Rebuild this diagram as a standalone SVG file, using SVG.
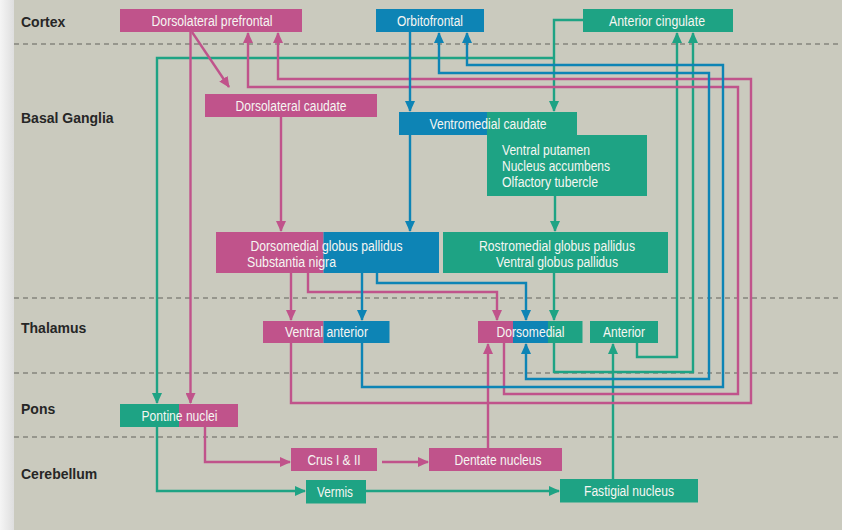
<svg xmlns="http://www.w3.org/2000/svg" width="842" height="530" viewBox="0 0 842 530">
<defs>
<linearGradient id="strip" x1="0" y1="0" x2="1" y2="0">
<stop offset="0" stop-color="#f5f5f5"/>
<stop offset="1" stop-color="#dedede"/>
</linearGradient>
<marker id="ap" markerUnits="userSpaceOnUse" markerWidth="11" markerHeight="10" refX="10" refY="5" orient="auto-start-reverse"><path d="M0,0 L11,5 L0,10 z" fill="#c0538b"/></marker>
<marker id="ab" markerUnits="userSpaceOnUse" markerWidth="11" markerHeight="10" refX="10" refY="5" orient="auto-start-reverse"><path d="M0,0 L11,5 L0,10 z" fill="#0d84b5"/></marker>
<marker id="at" markerUnits="userSpaceOnUse" markerWidth="11" markerHeight="10" refX="10" refY="5" orient="auto-start-reverse"><path d="M0,0 L11,5 L0,10 z" fill="#1ea384"/></marker>
</defs>
<style>
.sec{font-family:"Liberation Sans",Arial,sans-serif;font-weight:bold;font-size:14px;fill:#262626}
.lbl{font-family:"Liberation Sans",Arial,sans-serif;font-size:14px;fill:#f6f6f2}
.c{text-anchor:middle}
.pk{fill:#c0538b}
.bl{fill:#0d84b5}
.tl{fill:#1ea384}
.dash{stroke:#85857d;stroke-width:1.5;stroke-dasharray:5 4;fill:none}
.p{fill:none;stroke:#c0538b;stroke-width:2.4;marker-end:url(#ap)}
.b{fill:none;stroke:#0d84b5;stroke-width:2.4;marker-end:url(#ab)}
.t{fill:none;stroke:#1ea384;stroke-width:2.4;marker-end:url(#at)}
</style>
<rect x="0" y="0" width="842" height="530" fill="#cacabe"/>
<rect x="0" y="0" width="14" height="530" fill="url(#strip)"/>
<g id="bands">
<line class="dash" x1="14" y1="44" x2="842" y2="44"/>
<line class="dash" x1="14" y1="298" x2="842" y2="298"/>
<line class="dash" x1="14" y1="373" x2="842" y2="373"/>
<line class="dash" x1="14" y1="437" x2="842" y2="437"/>
<text class="sec" x="21" y="27">Cortex</text>
<text class="sec" x="21" y="123">Basal Ganglia</text>
<text class="sec" x="21" y="333">Thalamus</text>
<text class="sec" x="21" y="414">Pons</text>
<text class="sec" x="21" y="479">Cerebellum</text>
</g>
<g id="connectors">
<path class="t" d="M583,20 H554 V111"/>
<path class="t" d="M554,58 H157 V403"/>
<path class="t" d="M555,196 V231"/>
<path class="t" d="M554,273 V320"/>
<path class="t" d="M637,343 V357 H677 V33"/>
<path class="t" d="M554,343 V372 H693 V33"/>
<path class="t" d="M613,479 V344"/>
<path class="t" d="M157,427 V491 H305"/>
<path class="t" d="M366,491 H559"/>
<path class="p" d="M190.5,32 V403"/>
<path class="p" d="M192,32 L229,87"/>
<path class="p" d="M281,117 V231"/>
<path class="p" d="M291,273 V320"/>
<path class="p" d="M308,273 V292 H497 V320"/>
<path class="p" d="M504,343 V394 H738 V87 H248 V33"/>
<path class="p" d="M291,343 V403 H751 V79 H278 V33"/>
<path class="p" d="M488,448 V344"/>
<path class="p" d="M205,427 V462 H290"/>
<path class="p" d="M382,462 H428"/>
<path class="b" d="M410,32 V111"/>
<path class="b" d="M410,135 V231"/>
<path class="b" d="M362,273 V320"/>
<path class="b" d="M377,273 V283 H526 V320"/>
<path class="b" d="M526,344 V379 H709 V73 H439 V33" style="marker-start:url(#ab)"/>
<path class="b" d="M362,343 V387 H723 V65 H467 V33"/>
</g>
<g id="dorsolateral-prefrontal">
<rect class="pk" x="120" y="9" width="182" height="23"/>
<text class="lbl c" x="212" y="25.5" textLength="121" lengthAdjust="spacingAndGlyphs">Dorsolateral prefrontal</text>
</g>
<g id="orbitofrontal">
<rect class="bl" x="376" y="9" width="108" height="23"/>
<text class="lbl c" x="430" y="25.5" textLength="66" lengthAdjust="spacingAndGlyphs">Orbitofrontal</text>
</g>
<g id="anterior-cingulate">
<rect class="tl" x="583" y="9" width="150" height="23"/>
<text class="lbl c" x="657" y="25.5" textLength="96" lengthAdjust="spacingAndGlyphs">Anterior cingulate</text>
</g>
<g id="dorsolateral-caudate">
<rect class="pk" x="205" y="94" width="172" height="23"/>
<text class="lbl c" x="291" y="110.5" textLength="111" lengthAdjust="spacingAndGlyphs">Dorsolateral caudate</text>
</g>
<g id="ventromedial-caudate">
<rect class="bl" x="399" y="112" width="88" height="23"/>
<rect class="tl" x="487" y="112" width="90" height="23"/>
<text class="lbl c" x="488" y="128.5" textLength="117" lengthAdjust="spacingAndGlyphs">Ventromedial caudate</text>
</g>
<g id="ventral-striatum">
<rect class="tl" x="487" y="135" width="160" height="61"/>
<text class="lbl" x="502" y="155" textLength="88" lengthAdjust="spacingAndGlyphs">Ventral putamen</text>
<text class="lbl" x="502" y="171" textLength="108" lengthAdjust="spacingAndGlyphs">Nucleus accumbens</text>
<text class="lbl" x="502" y="187" textLength="96" lengthAdjust="spacingAndGlyphs">Olfactory tubercle</text>
</g>
<g id="dorsomedial-globus-pallidus">
<rect class="pk" x="216" y="232" width="107.5" height="41"/>
<rect class="bl" x="323.5" y="232" width="115.5" height="41"/>
<text class="lbl" x="250.5" y="250.5" textLength="152" lengthAdjust="spacingAndGlyphs">Dorsomedial globus pallidus</text>
<text class="lbl" x="247" y="266.5" textLength="89" lengthAdjust="spacingAndGlyphs">Substantia nigra</text>
</g>
<g id="rostromedial-globus-pallidus">
<rect class="tl" x="443" y="232" width="225" height="41"/>
<text class="lbl c" x="557" y="250.5" textLength="156" lengthAdjust="spacingAndGlyphs">Rostromedial globus pallidus</text>
<text class="lbl c" x="557" y="266.5" textLength="122" lengthAdjust="spacingAndGlyphs">Ventral globus pallidus</text>
</g>
<g id="ventral-anterior">
<rect class="pk" x="263" y="321" width="60.5" height="22"/>
<rect class="bl" x="323.5" y="321" width="66" height="22"/>
<text class="lbl c" x="326.5" y="337" textLength="83" lengthAdjust="spacingAndGlyphs">Ventral anterior</text>
</g>
<g id="dorsomedial-thalamus">
<rect class="pk" x="478" y="321" width="35" height="22"/>
<rect class="bl" x="513" y="321" width="35" height="22"/>
<rect class="tl" x="548" y="321" width="34.5" height="22"/>
<text class="lbl c" x="530.5" y="337" textLength="68" lengthAdjust="spacingAndGlyphs">Dorsomedial</text>
</g>
<g id="anterior-thalamus">
<rect class="tl" x="590" y="321" width="68" height="22"/>
<text class="lbl c" x="624" y="337" textLength="42" lengthAdjust="spacingAndGlyphs">Anterior</text>
</g>
<g id="pontine-nuclei">
<rect class="tl" x="120" y="404" width="59" height="23"/>
<rect class="pk" x="179" y="404" width="59" height="23"/>
<text class="lbl c" x="179.5" y="420.5" textLength="76" lengthAdjust="spacingAndGlyphs">Pontine nuclei</text>
</g>
<g id="crus">
<rect class="pk" x="291" y="448" width="86" height="23"/>
<text class="lbl c" x="334" y="464.5" textLength="53" lengthAdjust="spacingAndGlyphs">Crus I &amp; II</text>
</g>
<g id="dentate-nucleus">
<rect class="pk" x="429" y="448" width="133" height="23"/>
<text class="lbl c" x="498" y="464.5" textLength="87" lengthAdjust="spacingAndGlyphs">Dentate nucleus</text>
</g>
<g id="vermis">
<rect class="tl" x="306" y="480" width="60" height="23.5"/>
<text class="lbl c" x="335" y="496.5" textLength="36" lengthAdjust="spacingAndGlyphs">Vermis</text>
</g>
<g id="fastigial-nucleus">
<rect class="tl" x="560" y="479" width="138" height="23.5"/>
<text class="lbl c" x="629" y="495.5" textLength="90" lengthAdjust="spacingAndGlyphs">Fastigial nucleus</text>
</g>
</svg>
